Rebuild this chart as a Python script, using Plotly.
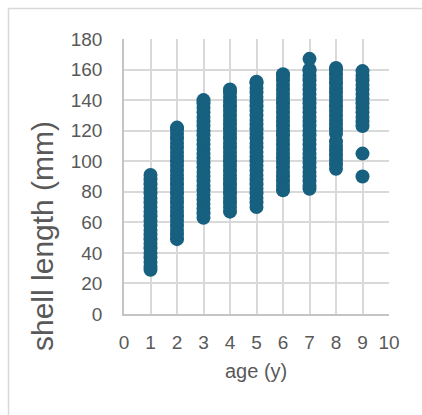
import plotly.graph_objects as go

# shell length (mm) observed at each age (y)
age1 = [29, 31, 34, 37, 40, 43, 46, 49, 52, 55, 58, 61, 64, 67, 70, 73, 76, 79, 82, 85, 88, 91]
age2 = [49, 52, 55, 58, 61, 64, 67, 70, 73, 76, 79, 82, 85, 88, 91, 94, 97, 100, 103, 106, 109, 112, 115, 118, 121, 122]
age3 = [63, 66, 69, 72, 75, 78, 81, 84, 87, 90, 93, 96, 99, 102, 105, 108, 111, 114, 117, 120, 123, 126, 129, 132, 135, 138, 140]
age4 = [67, 70, 73, 76, 79, 82, 85, 88, 91, 94, 97, 100, 103, 106, 109, 112, 115, 118, 121, 124, 127, 130, 133, 136, 139, 142, 145, 147]
age5 = [70, 73, 76, 79, 82, 85, 88, 91, 94, 97, 100, 103, 106, 109, 112, 115, 118, 121, 124, 127, 130, 133, 136, 139, 142, 145, 148, 151, 152]
age6 = [81, 84, 87, 90, 93, 96, 99, 102, 105, 108, 111, 114, 117, 120, 123, 126, 129, 132, 135, 138, 141, 144, 147, 150, 153, 156, 157]
age7 = [82, 84, 87, 90, 93, 96, 99, 102, 105, 108, 111, 114, 117, 120, 123, 126, 129, 132, 135, 138, 141, 144, 147, 150, 153, 156, 159, 160, 167]
age8 = [95, 98, 101, 104, 107, 110, 113, 118, 121, 124, 127, 130, 133, 136, 139, 142, 145, 148, 151, 154, 157, 160, 161]
age9 = [90, 105, 123, 126, 129, 132, 135, 138, 141, 144, 147, 150, 153, 156, 159]

series = [age1, age2, age3, age4, age5, age6, age7, age8, age9]
ages = list(range(1, 10))

xs, ys = [], []
for a, vals in zip(ages, series):
    xs += [a] * len(vals)
    ys += vals

x_ticks = list(range(0, 11))
y_ticks = list(range(0, 181, 20))

ML, MR, MT, MB = 124, 33, 39, 101
W, H = 422, 415
PW, PH = W - ML - MR, H - MT - MB

def px(x):
    return (x - ML) / PW

def py(y):
    return (H - MB - y) / PH

GRID = "#d9d9d9"
TXT = "#595959"
FONT = "Liberation Sans, Arial, sans-serif"

fig = go.Figure()
fig.add_trace(go.Scatter(
    x=xs, y=ys, mode="markers",
    marker=dict(color="#17607f", size=14, line=dict(width=0)),
    showlegend=False,
))

fig.update_layout(
    width=W, height=H,
    margin=dict(l=ML, r=MR, t=MT, b=MB),
    paper_bgcolor="white", plot_bgcolor="white",
    font=dict(family=FONT, color=TXT),
    xaxis=dict(
        range=[0, 10], tickvals=x_ticks, ticktext=[str(v) for v in x_ticks],
        showgrid=True, gridcolor=GRID, gridwidth=1.6, zeroline=False,
        showline=True, linecolor="#c4c4c4", linewidth=1.6, mirror=False,
        ticks="", ticklabelstandoff=10, tickfont=dict(size=19, color=TXT),
        fixedrange=True,
    ),
    yaxis=dict(
        range=[0, 180], tickvals=y_ticks, ticktext=[str(v) for v in y_ticks],
        showgrid=True, gridcolor=GRID, gridwidth=1.6, zeroline=False,
        showline=True, linecolor="#c4c4c4", linewidth=1.6, mirror=False,
        ticks="", ticklabelstandoff=16, tickfont=dict(size=19, color=TXT),
        fixedrange=True,
    ),
    shapes=[
        dict(type="rect", xref="paper", yref="paper",
             x0=px(8.5), x1=px(440), y0=py(430), y1=py(8.5),
             line=dict(color=GRID, width=1.5), fillcolor="rgba(0,0,0,0)",
             layer="below"),
    ],
    annotations=[
        dict(text="age (y)", xref="paper", yref="paper",
             x=px(256), y=py(371), xanchor="center", yanchor="middle",
             showarrow=False, font=dict(size=20, color=TXT, family=FONT)),
        dict(text="shell length (mm)", xref="paper", yref="paper",
             x=px(42), y=py(236), xanchor="center", yanchor="middle",
             textangle=-90, showarrow=False,
             font=dict(size=30, color=TXT, family=FONT)),
    ],
)

fig.write_html("out.html")
